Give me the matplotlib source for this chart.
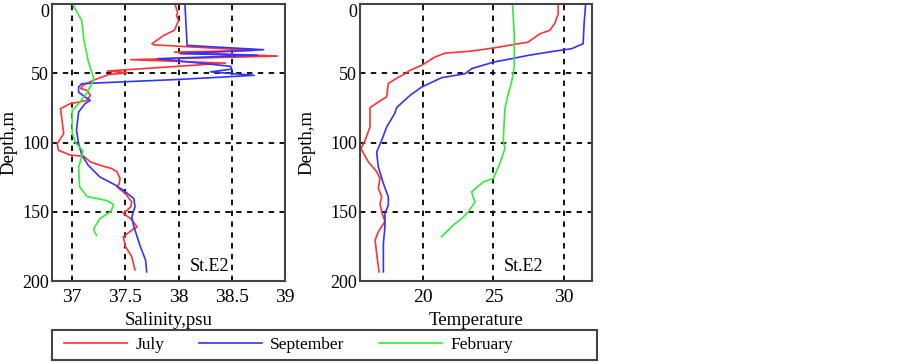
import matplotlib
matplotlib.use("Agg")
import matplotlib.pyplot as plt
import numpy as np

plt.rcParams["font.family"] = ["Liberation Serif", "DejaVu Serif"]

# ---------- salinity profiles (psu) vs depth (m) ---------------------------
sal_jul_depth = [1, 6, 8.5, 12, 19, 22.7, 28.7, 29.5, 33.5, 34.7, 37.6, 40.2, 42.7,
                 48.4, 49.6, 51, 55, 58.8, 61, 62.4, 66, 69.6, 72, 75.6, 81.6, 93.6,
                 100.8, 105.6, 109, 110, 114, 116.4, 118.8, 121, 126, 130, 132,
                 136.9, 142.9, 146.5, 151.3, 155, 161, 163.3, 168, 175, 182.5, 192]
sal_jul = [37.97, 37.99, 37.98, 38.0, 37.96, 37.86, 37.75, 37.77, 38.71, 37.96, 38.93,
           37.55, 38.44, 37.33, 37.52, 37.34, 37.2, 37.1, 37.08, 37.14, 37.17, 37.14,
           36.98, 36.89, 36.9, 36.92, 36.86, 36.87, 36.98, 37.11, 37.17, 37.26,
           37.37, 37.42, 37.45, 37.44, 37.42, 37.5, 37.56, 37.55, 37.48, 37.55,
           37.61, 37.56, 37.48, 37.5, 37.56, 37.59]

sal_sep_depth = [1, 29.9, 33, 35.9, 37, 39.5, 45, 47, 49, 51.5, 54.4, 57.5, 60, 63.6,
                 66, 69.6, 72, 78, 91.2, 100.8, 109, 116.4, 124.9, 130.9, 134.5,
                 140.5, 146.5, 153.7, 161, 175, 185, 193.4]
sal_sep = [38.06, 38.08, 38.8, 38.02, 38.74, 37.8, 38.49, 38.5, 38.3, 38.71, 38.02,
           37.09, 37.06, 37.06, 37.1, 37.17, 37.12, 37.06, 37.04, 37.06, 37.09,
           37.15, 37.26, 37.41, 37.48, 37.58, 37.59, 37.56, 37.58, 37.64, 37.69, 37.7]

sal_feb_depth = [1, 12, 26, 41, 53, 55, 64, 72, 77, 93, 100, 106, 110, 118, 132,
                 139, 142, 145, 150, 155, 160, 163, 167]
sal_feb = [37.01, 37.09, 37.11, 37.15, 37.2, 37.2, 37.14, 37.06, 37.0, 37.0, 37.03,
           37.1, 37.09, 37.06, 37.07, 37.14, 37.33, 37.39, 37.36, 37.26, 37.22,
           37.2, 37.23]

# ---------- temperature profiles (degC) vs depth (m) -----------------------
tmp_jul_depth = [1, 7, 14, 19, 21.5, 27.5, 29.2, 31.6, 34, 35.5, 38.3, 44.3, 47.9,
                 50.4, 54.4, 57.5, 67, 70.8, 74.8, 88.8, 98.4, 104.4, 114, 121, 126,
                 133, 139.3, 144, 150, 157, 164.5, 170.5, 180, 193.4]
tmp_jul = [29.6, 29.6, 29.36, 29.0, 28.3, 27.47, 26.5, 25.1, 23.45, 21.56, 20.85,
           19.9, 19.08, 18.72, 18.0, 17.54, 17.42, 16.83, 16.24, 16.24, 15.89, 15.6,
           16.12, 16.71, 16.95, 16.83, 17.07, 16.95, 17.07, 17.3, 16.83, 16.6,
           16.71, 16.88]

tmp_sep_depth = [1, 14, 28.7, 32.3, 34, 37.1, 39.5, 42, 46.7, 50.4, 53.2, 60, 66,
                 74.8, 79, 88.8, 98.4, 106.8, 117.7, 129.6, 139.3, 145.3, 151.3,
                 161, 172.9, 193.4]
tmp_sep = [31.54, 31.44, 31.37, 30.55, 29.36, 27.47, 26.29, 24.99, 23.45, 22.98,
           21.32, 19.9, 19.08, 18.13, 18.0, 17.42, 17.07, 16.71, 16.83, 17.19,
           17.54, 17.54, 17.3, 17.3, 17.19, 17.19]

tmp_feb_depth = [1, 21.5, 45.5, 56.4, 67, 75.6, 98.4, 104.4, 115.2, 126, 128.5,
                 135.7, 142.9, 150.1, 155, 159.7, 164.5, 168]
tmp_feb = [26.36, 26.48, 26.48, 26.29, 26.0, 25.82, 25.7, 25.82, 25.46, 24.99,
           24.28, 23.45, 23.69, 23.21, 22.74, 22.15, 21.68, 21.32]

series_names = ["July", "September", "February"]
series_colors = ["#ff3333", "#3333ff", "#33ee33"]

sal_xticks = [37, 37.5, 38, 38.5, 39]
tmp_xticks = [20, 25, 30]
depth_ticks = [0, 50, 100, 150, 200]


def style_axes(ax, xlim, xticks, xlabel, ylab_x, tag_x):
    ax.set_xlim(*xlim)
    ax.set_ylim(200, 0)
    ax.set_xticks(xticks)
    ax.set_xticklabels([f"{t:g}" for t in xticks])
    ax.set_yticks(depth_ticks)
    ax.grid(True, color="black", linestyle=(0, (3, 3)), linewidth=1.3)
    ax.tick_params(length=0)
    ax.tick_params(axis="x", labelsize=14, pad=6)
    ax.tick_params(axis="y", labelsize=13, pad=2)
    ax.get_yticklabels()[0].set_va("top")
    for sp in ax.spines.values():
        sp.set_color("#444444")
        sp.set_linewidth(1.5)
    ax.set_xlabel(xlabel, fontsize=13.5, labelpad=4)
    ax.set_ylabel("Depth,m", fontsize=13.5)
    ax.yaxis.set_label_coords(ylab_x, 0.5)
    ax.text(tag_x, 0.02, "St.E2", transform=ax.transAxes, fontsize=13,
            ha="left", va="bottom")


fig = plt.figure(figsize=(9.03, 3.62), dpi=100)
ax1 = fig.add_axes([52 / 903, 1 - 281 / 362, 233 / 903, 277 / 362])
ax2 = fig.add_axes([360 / 903, 1 - 281 / 362, 232 / 903, 277 / 362])

sal = [(sal_jul, sal_jul_depth), (sal_sep, sal_sep_depth), (sal_feb, sal_feb_depth)]
tmp = [(tmp_jul, tmp_jul_depth), (tmp_sep, tmp_sep_depth), (tmp_feb, tmp_feb_depth)]

handles = []
for (x, d), name, c in zip(sal, series_names, series_colors):
    h, = ax1.plot(x, d, color=c, lw=1.2, label=name)
    handles.append(h)
for (x, d), c in zip(tmp, series_colors):
    ax2.plot(x, d, color=c, lw=1.2)

style_axes(ax1, (36.81, 39.0), sal_xticks, "Salinity,psu", -0.15, 0.59)
style_axes(ax2, (15.53, 32.0), tmp_xticks, "Temperature", -0.19, 0.62)

# legend content on the left, outer box spans the full strip like the original
leg = fig.legend(handles=handles, loc="center left", ncol=3, frameon=False,
                 bbox_to_anchor=(52 / 903, 17 / 362), fontsize=12.5,
                 handlelength=3.6, handletextpad=0.5, columnspacing=2.0,
                 borderaxespad=0, borderpad=0.7)
fig.add_artist(plt.Rectangle((52 / 903, 2 / 362), 545 / 903, 30 / 362,
                             transform=fig.transFigure, fill=False,
                             edgecolor="#444444", linewidth=1.5))

fig.savefig("out.png", dpi=100)
